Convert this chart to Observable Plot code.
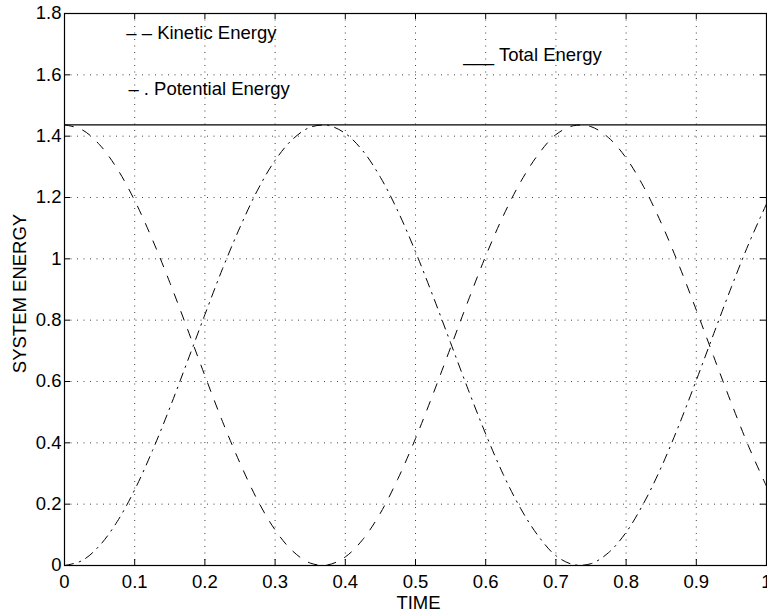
<!DOCTYPE html>
<html><head><meta charset="utf-8">
<script src="https://cdn.jsdelivr.net/npm/d3@7"></script>
<script src="https://cdn.jsdelivr.net/npm/@observablehq/plot@0.6"></script>
<style>body{margin:0;background:#fff}</style>
</head><body><div id="chart"></div>
<script>
const time = [0,0.025,0.05,0.075,0.1,0.125,0.15,0.175,0.2,0.225,0.25,0.275,0.3,0.325,0.35,0.375,0.4,0.425,0.45,0.475,0.5,0.525,0.55,0.575,0.6,0.625,0.65,0.675,0.7,0.725,0.75,0.775,0.8,0.825,0.85,0.875,0.9,0.925,0.95,0.975,1];
const kineticEnergy = [1.437,1.421,1.372,1.294,1.190,1.064,0.923,0.772,0.619,0.470,0.334,0.213,0.116,0.047,0.008,0.002,0.028,0.085,0.171,0.283,0.414,0.559,0.711,0.863,1.009,1.140,1.252,1.341,1.405,1.434,1.431,1.395,1.329,1.235,1.117,0.981,0.833,0.680,0.529,0.386,0.258];
const potentialEnergy = [0,0.016,0.065,0.143,0.247,0.373,0.514,0.665,0.818,0.967,1.103,1.224,1.321,1.390,1.429,1.435,1.409,1.352,1.266,1.155,1.023,0.878,0.726,0.574,0.429,0.297,0.185,0.096,0.032,0.003,0.006,0.042,0.108,0.203,0.320,0.456,0.604,0.757,0.908,1.051,1.179];
const totalEnergy = 1.437;
const xTicks = [0,0.1,0.2,0.3,0.4,0.5,0.6,0.7,0.8,0.9,1];
const yTicks = [0,0.2,0.4,0.6,0.8,1,1.2,1.4,1.6,1.8];
const legendLabels = ["– – Kinetic Energy", "– . Potential Energy", "___ Total Energy"];
const xLabel = "TIME";
const yLabel = "SYSTEM ENERGY";

const W = 767, H = 615, mL = 64, mR = 1, mT = 13, mB = 50;
const innerW = W - mL - mR, innerH = H - mT - mB;
const fmt = d => String(+d.toFixed(1));

const ke = time.map((t, i) => ({t, v: kineticEnergy[i]}));
const pe = time.map((t, i) => ({t, v: potentialEnergy[i]}));

const chart = Plot.plot({
  width: W, height: H,
  marginLeft: mL, marginRight: mR, marginTop: mT, marginBottom: mB,
  style: {fontFamily: "'Liberation Sans', Arial, Helvetica, sans-serif", fontSize: "18px", background: "#fff", color: "#000", overflow: "visible"},
  x: {domain: [0, 1]},
  y: {domain: [0, 1.8]},
  marks: [
    Plot.ruleX(xTicks.slice(1, -1), {stroke: "#000", strokeOpacity: 0.75, strokeDasharray: "1,5.5"}),
    Plot.ruleY(yTicks.slice(1, -1), {stroke: "#000", strokeOpacity: 0.75, strokeDasharray: "1,5.5"}),
    Plot.ruleX(xTicks, {stroke: "#000", insetTop: innerH - 6}),
    Plot.ruleX(xTicks, {stroke: "#000", insetBottom: innerH - 6}),
    Plot.ruleY(yTicks, {stroke: "#000", insetRight: innerW - 6}),
    Plot.ruleY(yTicks, {stroke: "#000", insetLeft: innerW - 6}),
    Plot.axisX(xTicks, {tickSize: 0, tickPadding: 9, tickFormat: fmt, label: null, fontSize: 18.5}),
    Plot.axisY(yTicks, {tickSize: 0, tickPadding: 3, tickFormat: fmt, label: null, fontSize: 18.5}),
    Plot.ruleY([totalEnergy], {stroke: "#000", strokeWidth: 1.2}),
    Plot.line(ke, {x: "t", y: "v", curve: "catmull-rom", stroke: "#000", strokeWidth: 1, strokeDasharray: "9,10"}),
    Plot.line(pe, {x: "t", y: "v", curve: "catmull-rom", stroke: "#000", strokeWidth: 1, strokeDasharray: "9,6,1.5,6"}),
    Plot.text([legendLabels[0]], {x: 0.088, y: 1.735, textAnchor: "start", fontSize: 18.5, fill: "#000"}),
    Plot.text([legendLabels[1]], {x: 0.091, y: 1.555, textAnchor: "start", fontSize: 18.5, fill: "#000"}),
    Plot.text([legendLabels[2]], {x: 0.568, y: 1.666, textAnchor: "start", fontSize: 18.5, fill: "#000"}),
    Plot.text([xLabel], {frameAnchor: "bottom", textAnchor: "middle", lineAnchor: "middle", dx: 3, dy: 38, fontSize: 18.5, fill: "#000"}),
    Plot.text([yLabel], {frameAnchor: "left", textAnchor: "middle", lineAnchor: "middle", rotate: -90, dx: -44, dy: 4, fontSize: 18.5, fill: "#000"}),
    Plot.frame({stroke: "#000", strokeWidth: 1.2})
  ]
});
document.getElementById("chart").appendChild(chart);
</script>
</body></html>
